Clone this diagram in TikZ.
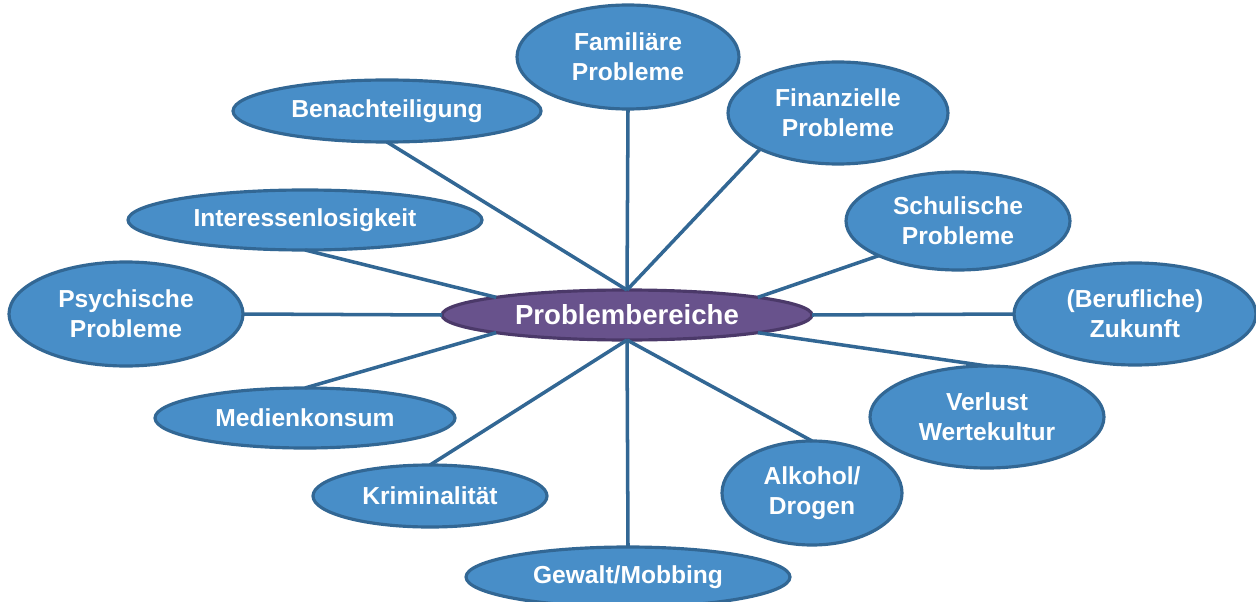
\documentclass[tikz,border=0pt]{standalone}
\usepackage{fontspec}
\setmainfont{Liberation Sans}
\usetikzlibrary{shapes.geometric}
\definecolor{bubblefill}{RGB}{72,142,200}
\definecolor{bubbleline}{RGB}{50,103,148}
\definecolor{hubfill}{RGB}{104,82,140}
\definecolor{hubline}{RGB}{75,57,105}
\tikzset{
  bubble/.style={ellipse, draw=bubbleline, fill=bubblefill, line width=1.8pt, inner sep=0pt, outer sep=0pt, text=white, align=center, font=\bfseries\fontsize{14}{17}\selectfont},
  hub/.style={bubble, draw=hubline, fill=hubfill, font=\bfseries\fontsize{15.7}{18}\selectfont},
  oval/.style 2 args={minimum width=#1*0.02cm, minimum height=#2*0.02cm},
  spoke/.style={draw=bubbleline, line width=2pt},
}
\begin{document}
\begin{tikzpicture}[x=0.02cm, y=-0.02cm]
\useasboundingbox (0,0) rectangle (1256,601);
\node[hub, oval={370}{50}] (hub) at (627,315) {Problembereiche};
\node[bubble, oval={222}{104}] (fam) at (628,57) {Familiäre\\Probleme};
\node[bubble, oval={220}{102}] (fin) at (838,113) {Finanzielle\\Probleme};
\node[bubble, oval={308}{62}] (ben) at (387,111) {Benachteiligung};
\node[bubble, oval={354}{60}] (int) at (305,220) {Interessenlosigkeit};
\node[bubble, oval={224}{98}] (sch) at (958,221) {Schulische\\Probleme};
\node[bubble, oval={234}{104}] (psy) at (126,314) {Psychische\\Probleme};
\node[bubble, oval={242}{102}] (ber) at (1135,314) {(Berufliche)\\Zukunft};
\node[bubble, oval={300}{60}] (med) at (305,418) {Medienkonsum};
\node[bubble, oval={234}{102}] (ver) at (987,417) {Verlust\\Wertekultur};
\node[bubble, oval={234}{62}] (kri) at (430,496) {Kriminalität};
\node[bubble, oval={180}{104}] (alk) at (812,493) {Alkohol/\\Drogen};
\node[bubble, oval={324}{60}] (gew) at (628,577) {Gewalt/Mobbing};
\draw[spoke] (fam.south) -- (hub.north);
\draw[spoke] (fin.south west) -- (hub.north);
\draw[spoke] (ben.south) -- (hub.north);
\draw[spoke] (int.south) -- (hub.north west);
\draw[spoke] (sch.south west) -- (hub.north east);
\draw[spoke] (psy.east) -- (hub.west);
\draw[spoke] (ber.west) -- (hub.east);
\draw[spoke] (med.north) -- (hub.south west);
\draw[spoke] (ver.north) -- (hub.south east);
\draw[spoke] (kri.north) -- (hub.south);
\draw[spoke] (alk.north) -- (hub.south);
\draw[spoke] (gew.north) -- (hub.south);
\end{tikzpicture}
\end{document}
